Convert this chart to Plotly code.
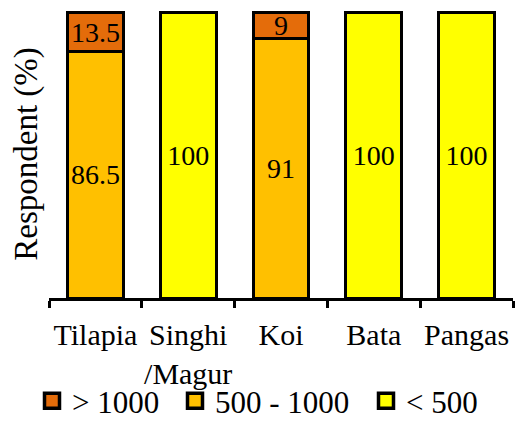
import plotly.graph_objects as go

# Fish species surveyed
categories = ["Tilapia", "Singhi<br>/Magur", "Koi", "Bata", "Pangas"]

# Share of respondents (%) in each price / size class
above_1000 = [13.5, 0, 9, 0, 0]
from_500_to_1000 = [86.5, 0, 91, 0, 0]
below_500 = [0, 100, 0, 100, 100]

series = [
    ("> 1000", above_1000, "#E46C0A"),
    ("500 - 1000", from_500_to_1000, "#FFC000"),
    ("< 500", below_500, "#FFFF00"),
]

FONT = "Liberation Serif, Times New Roman, serif"

# each legend entry gets its own legend box so the entries can be spaced freely
legend_ids = {"> 1000": "legend", "500 - 1000": "legend2", "< 500": "legend3"}
legend_left = {"> 1000": 32, "500 - 1000": 175, "< 500": 366}

fig = go.Figure()
# stack bottom-up: 500-1000 and <500 sit on the axis, >1000 on top
for name, vals, color in [series[1], series[2], series[0]]:
    fig.add_trace(go.Bar(
        name=name,
        x=categories,
        y=vals,
        marker=dict(color=color, line=dict(color="black", width=3)),
        text=[("%g" % v) if v else "" for v in vals],
        textposition="inside",
        insidetextanchor="middle",
        textangle=0,
        textfont=dict(family=FONT, size=28, color="black"),
        hoverinfo="skip",
        showlegend=False,
    ))
    # legend swatch: square marker with a heavy black outline
    fig.add_trace(go.Scatter(
        name=name,
        x=[None], y=[None],
        mode="markers",
        marker=dict(symbol="square", size=15, color=color, line=dict(color="black", width=3.5)),
        legend=legend_ids[name],
        showlegend=True,
        hoverinfo="skip",
    ))

legend_style = dict(
    orientation="h",
    xref="container", yref="container",
    xanchor="left", yanchor="middle",
    y=20 / 421,
    font=dict(family=FONT, size=31, color="black"),
    bgcolor="rgba(0,0,0,0)",
    itemsizing="trace",
)

fig.update_layout(
    barmode="stack",
    bargap=0.4,
    width=515,
    height=421,
    margin=dict(l=49, r=2, t=10, b=123, autoexpand=False),
    paper_bgcolor="white",
    plot_bgcolor="white",
    font=dict(family=FONT, color="black"),
    uniformtext=dict(minsize=28, mode="show"),
    legend=dict(legend_style, x=legend_left["> 1000"] / 515),
    legend2=dict(legend_style, x=legend_left["500 - 1000"] / 515),
    legend3=dict(legend_style, x=legend_left["< 500"] / 515),
    showlegend=True,
)

fig.update_xaxes(
    showline=True, linecolor="black", linewidth=3,
    ticks="outside", tickson="boundaries", ticklen=7, tickwidth=3, tickcolor="black",
    tickangle=0, ticklabelstandoff=8, automargin=False,
    tickfont=dict(family=FONT, size=30, color="black"),
    showgrid=False, zeroline=False,
)
fig.update_yaxes(
    range=[0, 101], automargin=False,
    showline=False, showgrid=False, zeroline=False,
    showticklabels=False, ticks="",
    title=dict(text="Respondent (%)", font=dict(family=FONT, size=33, color="black"), standoff=0),
)

fig.write_html("out.html")
